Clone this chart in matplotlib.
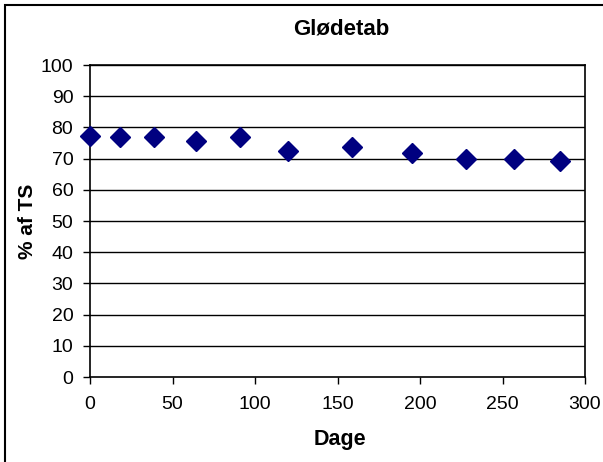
import matplotlib
matplotlib.use("Agg")
import matplotlib.pyplot as plt
from matplotlib.patches import Rectangle

plt.rcParams["font.family"] = ["Liberation Sans", "DejaVu Sans"]

# data
dage = [0, 18, 39, 64, 91, 120, 159, 195, 228, 257, 285]
glodetab = [77.3, 76.8, 76.8, 75.5, 76.8, 72.3, 73.8, 71.9, 69.8, 69.8, 69.1]
x_ticks = [0, 50, 100, 150, 200, 250, 300]
y_ticks = list(range(0, 101, 10))

W, H = 603, 462
fig = plt.figure(figsize=(W / 100, H / 100), dpi=100)
ax = fig.add_axes([90 / W, 1 - 377 / H, 495 / W, 312 / H])

# chart border (right and bottom edges fall outside the picture)
fig.patches.append(Rectangle((5 / W, -0.1), 1.2, (H - 5) / H + 0.1,
                             transform=fig.transFigure, fill=False,
                             edgecolor="black", linewidth=1.5))

for y in y_ticks[1:]:
    ax.axhline(y, color="black", linewidth=1, zorder=1)

ax.plot(dage, glodetab, linestyle="none", marker="D", markersize=10,
        color="#000080", zorder=3, clip_on=False)

ax.set_xlim(0, 300)
ax.set_ylim(0, 100)
ax.set_xticks(x_ticks)
ax.set_yticks(y_ticks)
ax.tick_params(direction="out", length=5, width=1, labelsize=14, colors="black")
ax.tick_params(axis="x", pad=9)
ax.tick_params(axis="y", pad=7)
for s in ax.spines.values():
    s.set_linewidth(1.2)
    s.set_color("black")

fig.text(341 / W, 1 - 29 / H, "Glødetab", fontsize=16, fontweight="bold",
         ha="center", va="center")
fig.text(340 / W, 1 - 440 / H, "Dage", fontsize=15.5, fontweight="bold",
         ha="center", va="center")
fig.text(27.5 / W, 1 - 221 / H, "% af TS", fontsize=15, fontweight="bold",
         ha="center", va="center", rotation=90)

fig.savefig("out.png", dpi=100)
